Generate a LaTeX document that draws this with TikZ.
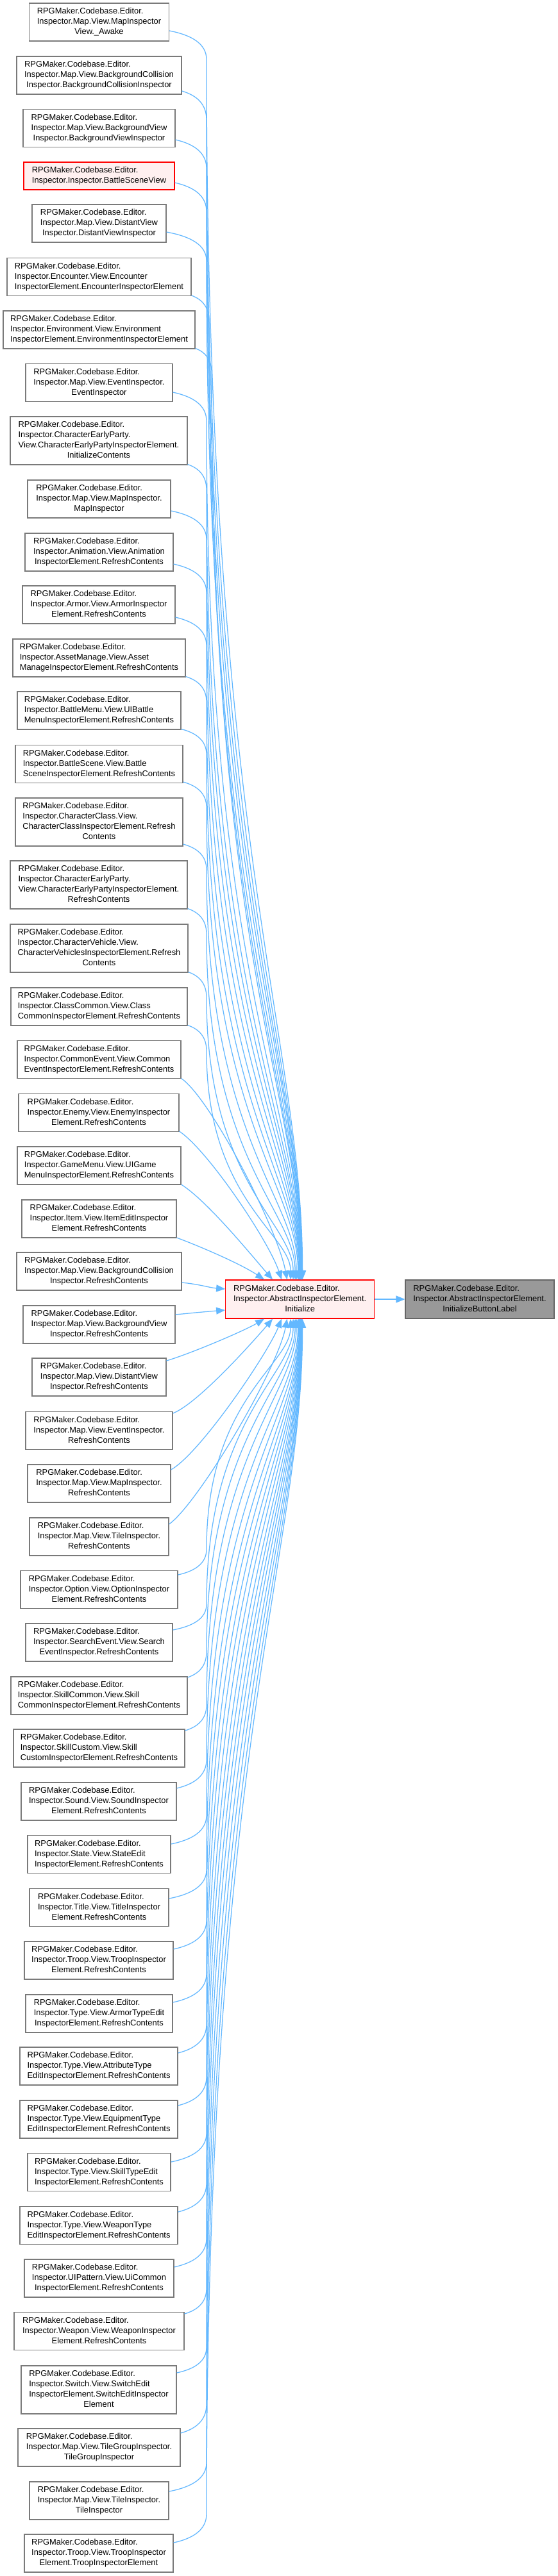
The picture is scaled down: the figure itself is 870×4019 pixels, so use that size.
\documentclass[tikz,border=0pt]{standalone}
\usepackage{fontspec}
\setmainfont{Liberation Sans}
\usetikzlibrary{arrows.meta,calc}
\definecolor{edgec}{HTML}{63B8FF}
\definecolor{bordc}{HTML}{7A7A7A}
\definecolor{rootbord}{HTML}{666666}
\definecolor{rootfill}{HTML}{999999}
\definecolor{redfill}{HTML}{FFF0F0}
\newcommand\lbl[2]{\begin{tabular}{@{}l@{}}#1\\\multicolumn{1}{@{}c@{}}{#2}\end{tabular}}
\newcommand\nd[6]{\node[nbox,minimum width=#4pt,minimum height=#5pt] (#1) at (#2,#3) {#6};}
\newcommand\uf[5]{\draw[edge] let \p1=($(#1.east)+(0,#2)$), \p2=([xshift=#5pt]m.north west), \p3=(#3pt,{\y1-#4pt}) in (\p1) .. controls ({\x1+0.6*(\x3-\x1)},{\y1-0.15*#4pt}) and (\x3,{\y3+0.55*#4pt}) .. (\p3) .. controls (\x3,{\y3-0.65*(\y3-\y2)}) and (\x2,{\y2+0.2*(\y3-\y2)}) .. (\p2);}
\newcommand\lf[5]{\draw[edge] let \p1=($(#1.east)+(0,-#2)$), \p2=([xshift=#5pt]m.south west), \p3=(#3pt,{\y1+#4pt}) in (\p1) .. controls ({\x1+0.6*(\x3-\x1)},{\y1+0.15*#4pt}) and (\x3,{\y3-0.55*#4pt}) .. (\p3) .. controls (\x3,{\y3+0.65*(\y2-\y3)}) and (\x2,{\y2-0.2*(\y2-\y3)}) .. (\p2);}
\newcommand\nr[5]{\draw[edge] ($(#1.east)+(0,#2)$) .. controls +(#3) and +(#4) .. (#5);}
\tikzset{
  nbox/.style={draw=bordc,fill=white,line width=1.15pt,inner sep=0pt,rectangle},
  redbox/.style={draw=red,fill=redfill},
  rootbox/.style={draw=rootbord,fill=rootfill},
  edge/.style={draw=edgec,line width=1.25pt,-{Triangle[length=14pt,width=11pt]}},
  every node/.style={font=\fontsize{12.9}{16}\selectfont}
}
\begin{document}
\begin{tikzpicture}[x=1pt,y=-1pt]
\fill[white] (0,0) rectangle (870,4019);
\useasboundingbox (0,0) rectangle (870,4019);
\def\R{RPGMaker.Codebase.Editor.}
\nd{n1}{154.5}{34.5}{218}{59}{\lbl{\R\\Inspector.Map.View.MapInspector}{View.\_Awake}}
\nd{n2}{154.5}{117.5}{257}{59}{\lbl{\R\\Inspector.Map.View.BackgroundCollision}{Inspector.BackgroundCollisionInspector}}
\nd{n3}{154.5}{200}{237}{59}{\lbl{\R\\Inspector.Map.View.BackgroundView}{Inspector.BackgroundViewInspector}}
\node[nbox,redbox,minimum width=235pt,minimum height=43pt] (n4) at (154.5,274.5) {\lbl{\R}{Inspector.Inspector.BattleSceneView}};
\nd{n5}{154.5}{348.5}{209}{59}{\lbl{\R\\Inspector.Map.View.DistantView}{Inspector.DistantViewInspector}}
\nd{n6}{154.5}{432}{287}{59}{\lbl{\R\\Inspector.Encounter.View.Encounter}{InspectorElement.EncounterInspectorElement}}
\nd{n7}{154.5}{514.5}{299}{59}{\lbl{\R\\Inspector.Environment.View.Environment}{InspectorElement.EnvironmentInspectorElement}}
\nd{n8}{154.5}{597}{229}{59}{\lbl{\R\\Inspector.Map.View.EventInspector.}{EventInspector}}
\nd{n9}{154}{687.5}{276}{75}{\lbl{\R\\Inspector.CharacterEarlyParty.\\View.CharacterEarlyPartyInspectorElement.}{InitializeContents}}
\nd{n10}{154.5}{778.5}{223}{59}{\lbl{\R\\Inspector.Map.View.MapInspector.}{MapInspector}}
\nd{n11}{154.5}{861.5}{231}{59}{\lbl{\R\\Inspector.Animation.View.Animation}{InspectorElement.RefreshContents}}
\nd{n12}{154}{943.5}{238}{59}{\lbl{\R\\Inspector.Armor.View.ArmorInspector}{Element.RefreshContents}}
\nd{n13}{154.5}{1026.5}{269}{59}{\lbl{\R\\Inspector.AssetManage.View.Asset}{ManageInspectorElement.RefreshContents}}
\nd{n14}{154.5}{1108.5}{255}{59}{\lbl{\R\\Inspector.BattleMenu.View.UIBattle}{MenuInspectorElement.RefreshContents}}
\nd{n15}{154.5}{1192}{261}{59}{\lbl{\R\\Inspector.BattleScene.View.Battle}{SceneInspectorElement.RefreshContents}}
\nd{n16}{154.5}{1282.5}{261}{75}{\lbl{\R\\Inspector.CharacterClass.View.\\CharacterClassInspectorElement.Refresh}{Contents}}
\nd{n17}{154}{1380.5}{276}{75}{\lbl{\R\\Inspector.CharacterEarlyParty.\\View.CharacterEarlyPartyInspectorElement.}{RefreshContents}}
\nd{n18}{154.5}{1479.5}{277}{75}{\lbl{\R\\Inspector.CharacterVehicle.View.\\CharacterVehiclesInspectorElement.Refresh}{Contents}}
\nd{n19}{154.5}{1570.5}{275}{59}{\lbl{\R\\Inspector.ClassCommon.View.Class}{CommonInspectorElement.RefreshContents}}
\nd{n20}{154.5}{1653}{255}{59}{\lbl{\R\\Inspector.CommonEvent.View.Common}{EventInspectorElement.RefreshContents}}
\nd{n21}{154}{1736}{250}{59}{\lbl{\R\\Inspector.Enemy.View.EnemyInspector}{Element.RefreshContents}}
\nd{n22}{154.5}{1818.5}{255}{59}{\lbl{\R\\Inspector.GameMenu.View.UIGame}{MenuInspectorElement.RefreshContents}}
\nd{n23}{154.5}{1901.5}{241}{59}{\lbl{\R\\Inspector.Item.View.ItemEditInspector}{Element.RefreshContents}}
\nd{n24}{154.5}{1983.5}{257}{59}{\lbl{\R\\Inspector.Map.View.BackgroundCollision}{Inspector.RefreshContents}}
\nd{n25}{154.5}{2066.5}{237}{59}{\lbl{\R\\Inspector.Map.View.BackgroundView}{Inspector.RefreshContents}}
\nd{n26}{154.5}{2148.5}{209}{59}{\lbl{\R\\Inspector.Map.View.DistantView}{Inspector.RefreshContents}}
\nd{n27}{154.5}{2232}{229}{59}{\lbl{\R\\Inspector.Map.View.EventInspector.}{RefreshContents}}
\nd{n28}{154.5}{2314.5}{223}{59}{\lbl{\R\\Inspector.Map.View.MapInspector.}{RefreshContents}}
\nd{n29}{154.5}{2397.5}{217}{59}{\lbl{\R\\Inspector.Map.View.TileInspector.}{RefreshContents}}
\nd{n30}{154.5}{2480}{245}{59}{\lbl{\R\\Inspector.Option.View.OptionInspector}{Element.RefreshContents}}
\nd{n31}{154.5}{2562.5}{229}{59}{\lbl{\R\\Inspector.SearchEvent.View.Search}{EventInspector.RefreshContents}}
\nd{n32}{154.5}{2645.5}{275}{59}{\lbl{\R\\Inspector.SkillCommon.View.Skill}{CommonInspectorElement.RefreshContents}}
\nd{n33}{154.5}{2727.5}{267}{59}{\lbl{\R\\Inspector.SkillCustom.View.Skill}{CustomInspectorElement.RefreshContents}}
\nd{n34}{154}{2810.5}{242}{59}{\lbl{\R\\Inspector.Sound.View.SoundInspector}{Element.RefreshContents}}
\nd{n35}{154.5}{2893}{223}{59}{\lbl{\R\\Inspector.State.View.StateEdit}{InspectorElement.RefreshContents}}
\nd{n36}{154.5}{2976}{217}{59}{\lbl{\R\\Inspector.Title.View.TitleInspector}{Element.RefreshContents}}
\nd{n37}{154}{3058.5}{232}{59}{\lbl{\R\\Inspector.Troop.View.TroopInspector}{Element.RefreshContents}}
\nd{n38}{154.5}{3141.5}{229}{59}{\lbl{\R\\Inspector.Type.View.ArmorTypeEdit}{InspectorElement.RefreshContents}}
\nd{n39}{154}{3223.5}{246}{59}{\lbl{\R\\Inspector.Type.View.AttributeType}{EditInspectorElement.RefreshContents}}
\nd{n40}{154}{3306.5}{246}{59}{\lbl{\R\\Inspector.Type.View.EquipmentType}{EditInspectorElement.RefreshContents}}
\nd{n41}{154.5}{3389}{223}{59}{\lbl{\R\\Inspector.Type.View.SkillTypeEdit}{InspectorElement.RefreshContents}}
\nd{n42}{154}{3472}{246}{59}{\lbl{\R\\Inspector.Type.View.WeaponType}{EditInspectorElement.RefreshContents}}
\nd{n43}{154.5}{3554.5}{233}{59}{\lbl{\R\\Inspector.UIPattern.View.UiCommon}{InspectorElement.RefreshContents}}
\nd{n44}{154.5}{3637}{265}{59}{\lbl{\R\\Inspector.Weapon.View.WeaponInspector}{Element.RefreshContents}}
\nd{n45}{154}{3728.5}{242}{75}{\lbl{\R\\Inspector.Switch.View.SwitchEdit\\InspectorElement.SwitchEditInspector}{Element}}
\nd{n46}{154.5}{3818.5}{253}{59}{\lbl{\R\\Inspector.Map.View.TileGroupInspector.}{TileGroupInspector}}
\nd{n47}{154.5}{3901.5}{217}{59}{\lbl{\R\\Inspector.Map.View.TileInspector.}{TileInspector}}
\nd{n48}{154}{3983.5}{232}{59}{\lbl{\R\\Inspector.Troop.View.TroopInspector}{Element.TroopInspectorElement}}
\node[nbox,redbox,minimum width=232pt,minimum height=60pt] (m) at (467.7,2027) {\lbl{\R\\Inspector.AbstractInspectorElement.}{Initialize}};
\node[nbox,rootbox,minimum width=232pt,minimum height=60pt] (r) at (748,2027) {\lbl{\R\\Inspector.AbstractInspectorElement.}{InitializeButtonLabel}};
% upper far edges
\uf{n1}{13.5}{322}{45}{120.5}
\uf{n2}{24.5}{322}{45}{120}
\uf{n3}{18}{322}{45}{119.5}
\uf{n4}{10.5}{322}{45}{119.5}
\uf{n5}{13.5}{322}{45}{119}
\uf{n6}{29}{326}{40}{118.5}
\uf{n7}{29}{330}{38}{118.5}
\uf{n8}{15}{322}{45}{118}
\uf{n9}{37}{322}{40}{117.5}
\uf{n10}{18.5}{322}{45}{117}
\uf{n11}{18.5}{322}{45}{116.5}
\uf{n12}{19.5}{322}{45}{116}
\uf{n13}{29}{322}{40}{115.5}
\uf{n14}{29}{322}{40}{114.5}
\uf{n15}{28}{322}{40}{113.5}
\uf{n16}{34.5}{322}{40}{111}
\uf{n17}{37}{322}{40}{109}
\uf{n18}{37}{322}{40}{106}
\uf{n19}{29}{322}{40}{102}
% upper near edges
\nr{n20}{29.5}{45,30}{-15,-80}{[xshift=96.5pt]m.north west}
\nr{n21}{29}{45,30}{-20,-60}{[xshift=88pt]m.north west}
\nr{n22}{29.5}{40,25}{-33,-38}{[xshift=74pt]m.north west}
\nr{n23}{29.5}{40,15}{-36,-24}{[xshift=61pt]m.north west}
% side edges
\nr{n24}{17.5}{30,3}{-25,-2}{[yshift=16pt]m.west}
\nr{n25}{-15.5}{30,-3}{-25,2}{[yshift=-17pt]m.west}
% lower near edges
\nr{n26}{-25.5}{40,-12}{-30,18}{[xshift=61pt]m.south west}
\nr{n27}{-27}{40,-16}{-30,35}{[xshift=74pt]m.south west}
\nr{n28}{-21.5}{45,-25}{-22,55}{[xshift=88pt]m.south west}
\nr{n29}{-19.5}{45,-32}{-15,80}{[xshift=96.5pt]m.south west}
% lower far edges
\lf{n30}{23}{322}{40}{102}
\lf{n31}{19.5}{322}{40}{106}
\lf{n32}{28.5}{322}{40}{109}
\lf{n33}{27.5}{322}{40}{111}
\lf{n34}{20.5}{322}{45}{113.5}
\lf{n35}{16}{322}{45}{114.5}
\lf{n36}{14}{322}{45}{115.5}
\lf{n37}{17.5}{322}{45}{116}
\lf{n38}{17.5}{322}{45}{116.5}
\lf{n39}{20.5}{322}{45}{117}
\lf{n40}{21.5}{322}{45}{117.5}
\lf{n41}{16}{322}{45}{118}
\lf{n42}{21}{322}{45}{118.5}
\lf{n43}{17.5}{322}{45}{118.5}
\lf{n44}{27}{322}{40}{119}
\lf{n45}{26.5}{322}{40}{119.5}
\lf{n46}{22.5}{322}{45}{119.5}
\lf{n47}{14.5}{322}{45}{120}
\lf{n48}{16.5}{322}{45}{120.5}
% to root
\draw[edge] (m) -- (r);
\end{tikzpicture}
\end{document}
